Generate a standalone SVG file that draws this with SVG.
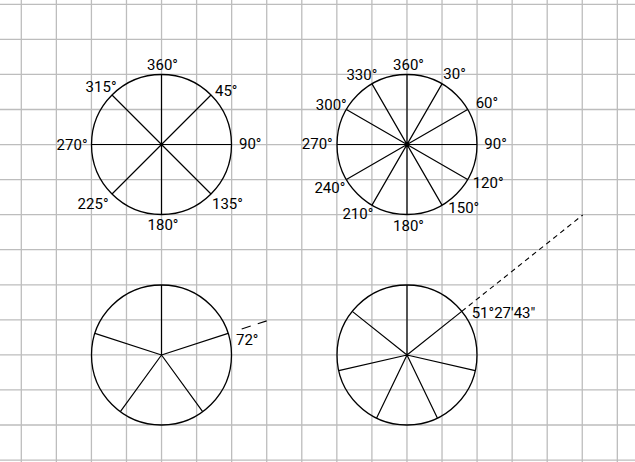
<svg xmlns="http://www.w3.org/2000/svg" width="635" height="462" viewBox="0 0 635 462">
<style>
.grid{stroke:#bdbdbd;stroke-width:1.3;fill:none}
.c{fill:none;stroke:#000;stroke-width:1.3}
.r{stroke:#000;stroke-width:1.2}
.d{stroke:#000;stroke-width:1.1;fill:none}
text{font-family:Roboto,"Liberation Sans",sans-serif;font-size:15px;fill:#000}
</style>
<rect width="635" height="462" fill="#fff"/>
<g id="grid" class="grid">
<path d="M21.3 0V462M56.36 0V462M91.42 0V462M126.48 0V462M161.54 0V462M196.6 0V462M231.66 0V462M266.72 0V462M301.78 0V462M336.84 0V462M371.9 0V462M406.96 0V462M442.02 0V462M477.08 0V462M512.14 0V462M547.2 0V462M582.26 0V462M617.32 0V462"/>
<path d="M0 4.3H635M0 39.36H635M0 74.42H635M0 109.48H635M0 144.54H635M0 179.6H635M0 214.66H635M0 249.72H635M0 284.78H635M0 319.84H635M0 354.9H635M0 389.96H635M0 425.02H635M0 460.08H635"/>
</g>
<g id="circle8">
<circle class="c" cx="161.5" cy="144.5" r="70"/>
<path class="r" d="M161.5 74.5V214.5M91.5 144.5H231.5M211 95L112 194M112 95L211 194"/>
<text x="162.5" y="70" text-anchor="middle">360°</text>
<text x="215" y="95.5">45°</text>
<text x="239" y="149">90°</text>
<text x="212" y="208.5">135°</text>
<text x="163" y="230" text-anchor="middle">180°</text>
<text x="108.5" y="208.5" text-anchor="end">225°</text>
<text x="87.5" y="150" text-anchor="end">270°</text>
<text x="116.5" y="91.5" text-anchor="end">315°</text>
</g>
<g id="circle12">
<circle class="c" cx="407" cy="144.5" r="70"/>
<path class="r" d="M407 74.5V214.5M337 144.5H477M442 83.88L372 205.12M467.62 109.5L346.38 179.5M467.62 179.5L346.38 109.5M442 205.12L372 83.88"/>
<text x="408.5" y="70" text-anchor="middle">360°</text>
<text x="443.3" y="79">30°</text>
<text x="475.7" y="108.3">60°</text>
<text x="484.3" y="149">90°</text>
<text x="472.7" y="187.7">120°</text>
<text x="448.3" y="212.7">150°</text>
<text x="408.5" y="230.7" text-anchor="middle">180°</text>
<text x="373.3" y="219" text-anchor="end">210°</text>
<text x="345.3" y="192.7" text-anchor="end">240°</text>
<text x="332.7" y="149" text-anchor="end">270°</text>
<text x="346.7" y="110" text-anchor="end">300°</text>
<text x="377.3" y="80" text-anchor="end">330°</text>
</g>
<g id="circle5">
<circle class="c" cx="161.5" cy="355" r="70"/>
<path class="r" d="M161.5 355L161.5 285M161.5 355L228.08 333.37M161.5 355L202.65 411.63M161.5 355L120.35 411.63M161.5 355L94.92 333.37"/>
<text x="236" y="345">72°</text>
</g>
<g id="circle7">
<circle class="c" cx="407" cy="355" r="70"/>
<path class="r" d="M407 355L407 285M407 355L461.73 311.35M407 355L475.24 370.58M407 355L437.37 418.07M407 355L376.63 418.07M407 355L338.76 370.58M407 355L352.27 311.35"/>
<text x="471.7" y="318.3">51°27′43″</text>
</g>
<g id="connectors">
<path class="d" stroke-dasharray="9.5,7.4" d="M241.68 329.05L266.7 320.87"/>
<path class="d" stroke-dasharray="5,4" d="M461.73 311.35L582.7 215"/>
</g>
</svg>
